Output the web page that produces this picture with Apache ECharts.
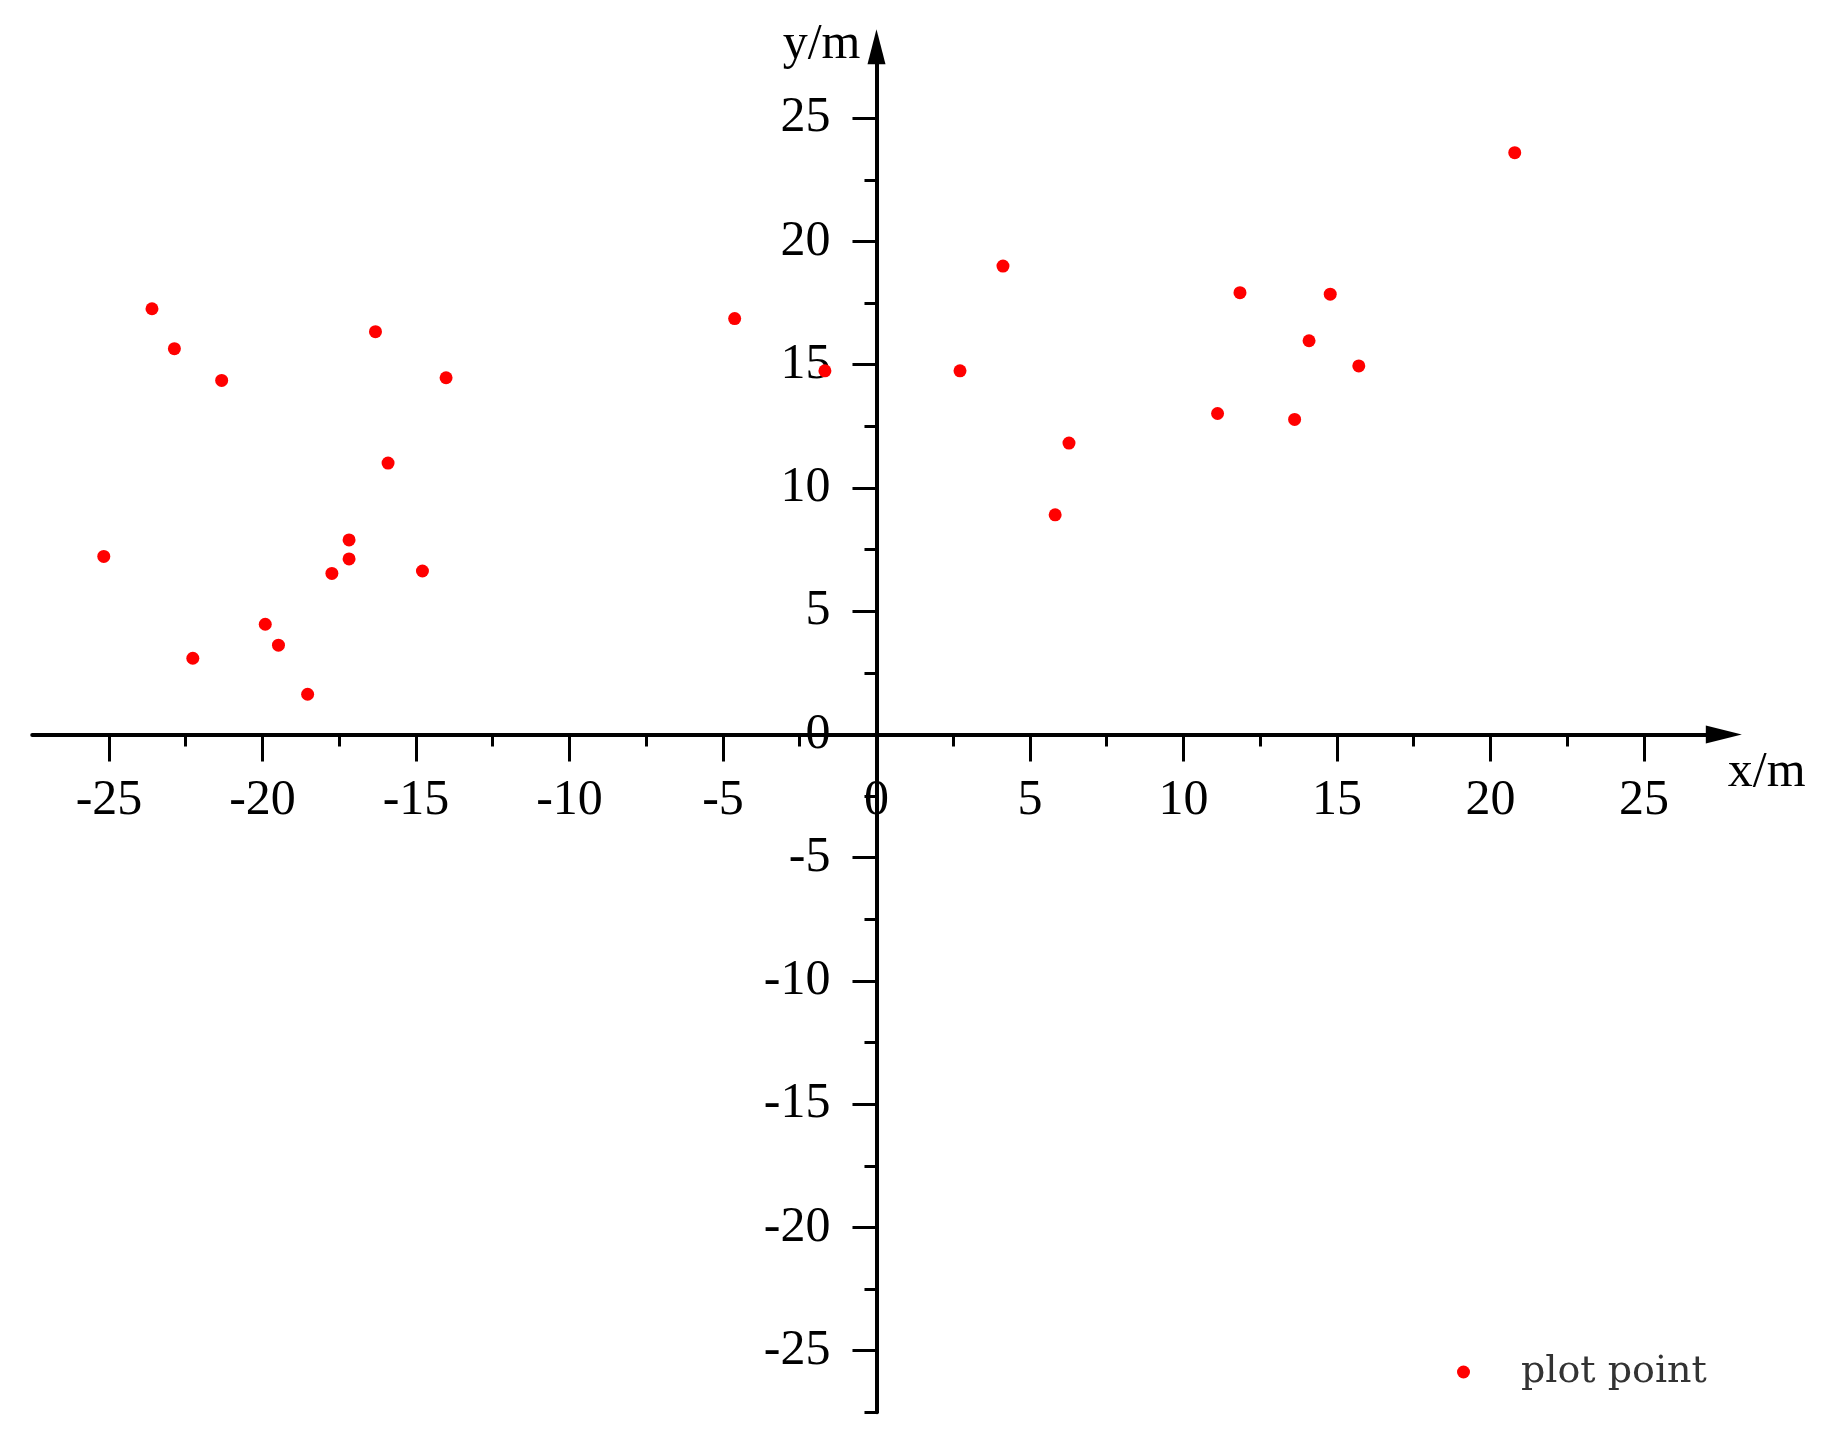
<!DOCTYPE html>
<html>
<head>
<meta charset="utf-8">
<script src="https://cdn.jsdelivr.net/npm/echarts@6/dist/echarts.min.js"></script>
<style>
html,body{margin:0;padding:0;background:#fff;}
#chart{width:1825px;height:1437px;}
</style>
</head>
<body>
<div id="chart"></div>
<script>
// ---- data ----
const seriesName = 'plot point';
const xValues = [-25.17, -23.60, -22.87, -21.33, -22.27, -19.91, -19.48, -18.53, -17.74, -17.18,
                 -17.18, -16.32, -15.91, -14.79, -14.02, -4.62, -1.68, 2.72, 4.12, 6.27,
                 5.82, 11.11, 11.84, 13.62, 14.09, 14.78, 15.71, 20.79];
const yValues = [7.22, 17.27, 15.65, 14.36, 3.09, 4.47, 3.62, 1.63, 6.53, 7.89,
                 7.12, 16.34, 11.01, 6.63, 14.47, 16.87, 14.75, 14.75, 19.00, 11.82,
                 8.91, 13.02, 17.92, 12.78, 15.97, 17.86, 14.95, 23.60];
const majorTicks = [-25, -20, -15, -10, -5, 0, 5, 10, 15, 20, 25];
const xMinorTicks = [-22.5, -17.5, -12.5, -7.5, -2.5, 2.5, 7.5, 12.5, 17.5, 22.5];
const yMinorTicks = [-27.5, -22.5, -17.5, -12.5, -7.5, -2.5, 2.5, 7.5, 12.5, 17.5, 22.5];
const xAxisName = 'x/m';
const yAxisName = 'y/m';
const xRange = [-27.5, 27.6];
const yRange = [-27.5, 27.9];

const points = xValues.map((x, i) => [x, yValues[i]]);

// ---- layout ----
const W = 1825, H = 1437;
const gridLeft = 32.25, gridRight = 101.2, gridTop = 46.7, gridBottom = 24.7;
const plotW = W - gridLeft - gridRight, plotH = H - gridTop - gridBottom;
// shift the axes from the grid edges onto the zero lines
const xAxisOffset = -(plotH * (0 - yRange[0]) / (yRange[1] - yRange[0]));
const yAxisOffset = -(plotW * (0 - xRange[0]) / (xRange[1] - xRange[0]));

const serif = '"Liberation Serif", "Times New Roman", serif';
const axisLineStyle = { color: '#000', width: 4 };
const tickStyle = { color: '#000', width: 3 };

const chart = echarts.init(document.getElementById('chart'), null, { renderer: 'canvas' });
chart.setOption({
  animation: false,
  backgroundColor: '#fff',
  grid: { left: gridLeft, right: gridRight, top: gridTop, bottom: gridBottom, containLabel: false, outerBoundsMode: 'none' },
  legend: {
    data: [seriesName],
    left: 1452, top: 1348,
    icon: 'circle', itemWidth: 13, itemHeight: 13,
    textStyle: { fontFamily: '"DejaVu Serif", serif', fontSize: 38, color: '#333', padding: [0, 0, 0, 46] }
  },
  xAxis: [
    {
      type: 'value', position: 'bottom', offset: xAxisOffset, min: xRange[0], max: xRange[1],
      splitLine: { show: false },
      axisLine: { show: true, onZero: false, symbol: ['none', 'triangle'], symbolSize: [18, 36], lineStyle: axisLineStyle },
      axisTick: { show: true, customValues: majorTicks, length: 27, lineStyle: tickStyle },
      axisLabel: { show: true, customValues: majorTicks, margin: 41, fontSize: 50, fontFamily: serif, color: '#000' },
      name: xAxisName, nameLocation: 'end', nameGap: 4,
      nameTextStyle: { fontSize: 50, fontFamily: serif, color: '#000', align: 'left', verticalAlign: 'top', padding: [13, 0, 0, 0] }
    },
    {
      type: 'value', position: 'bottom', offset: xAxisOffset, min: xRange[0], max: xRange[1],
      splitLine: { show: false },
      axisLine: { show: false, onZero: false },
      axisTick: { show: true, customValues: xMinorTicks, length: 12, lineStyle: tickStyle },
      axisLabel: { show: false }
    }
  ],
  yAxis: [
    {
      type: 'value', position: 'left', offset: yAxisOffset, min: yRange[0], max: yRange[1],
      splitLine: { show: false },
      axisLine: { show: true, onZero: false, symbol: ['none', 'triangle'], symbolSize: [18, 35], lineStyle: axisLineStyle },
      axisTick: { show: true, customValues: majorTicks, length: 24, lineStyle: tickStyle },
      axisLabel: { show: true, customValues: majorTicks, margin: 46, fontSize: 50, fontFamily: serif, color: '#000' },
      name: yAxisName, nameLocation: 'end', nameGap: 2,
      nameTextStyle: { fontSize: 50, fontFamily: serif, color: '#000', align: 'right', verticalAlign: 'middle', padding: [0, 16, 0, 0] }
    },
    {
      type: 'value', position: 'left', offset: yAxisOffset, min: yRange[0], max: yRange[1],
      splitLine: { show: false },
      axisLine: { show: false, onZero: false },
      axisTick: { show: true, customValues: yMinorTicks, length: 12, lineStyle: tickStyle },
      axisLabel: { show: false }
    }
  ],
  series: [
    {
      name: seriesName, type: 'scatter', xAxisIndex: 0, yAxisIndex: 0,
      symbol: 'circle', symbolSize: 13,
      itemStyle: { color: '#ff0000', opacity: 1 },
      data: points
    }
  ]
});
</script>
</body>
</html>
